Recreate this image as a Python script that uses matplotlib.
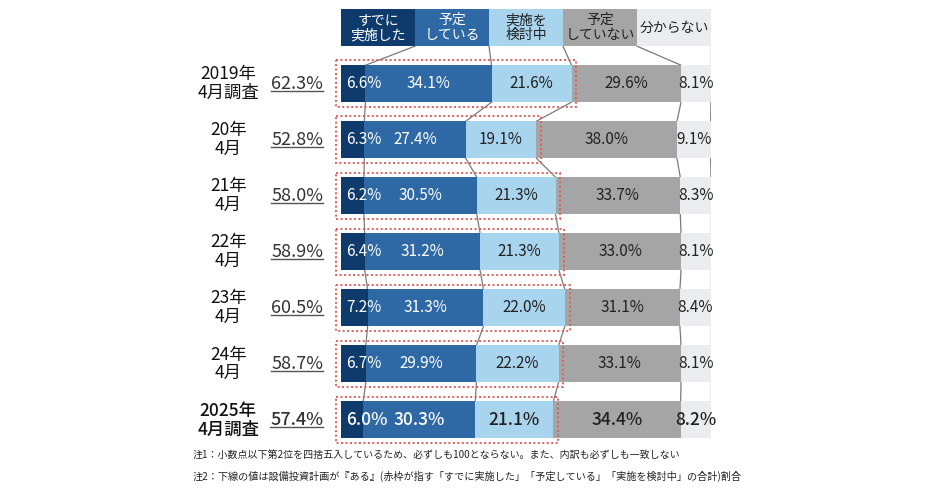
import matplotlib
matplotlib.use('Agg')
import matplotlib.pyplot as plt
from matplotlib.patches import Rectangle
from matplotlib.lines import Line2D
import numpy as np

plt.rcParams['font.family'] = ['Noto Sans CJK JP', 'DejaVu Sans']

# data
years = ['2019年\n4月調査', '20年\n4月', '21年\n4月', '22年\n4月', '23年\n4月', '24年\n4月', '2025年\n4月調査']
totals = ['62.3%', '52.8%', '58.0%', '58.9%', '60.5%', '58.7%', '57.4%']
categories = ['すでに\n実施した', '予定\nしている', '実施を\n検討中', '予定\nしていない', '分からない']
done = [6.6, 6.3, 6.2, 6.4, 7.2, 6.7, 6.0]
planned = [34.1, 27.4, 30.5, 31.2, 31.3, 29.9, 30.3]
considering = [21.6, 19.1, 21.3, 21.3, 22.0, 22.2, 21.1]
not_planned = [29.6, 38.0, 33.7, 33.0, 31.1, 33.1, 34.4]
unknown = [8.1, 9.1, 8.3, 8.1, 8.4, 8.1, 8.2]
notes = ['注1：小数点以下第2位を四捨五入しているため、必ずしも100とならない。また、内訳も必ずしも一致しない',
         '注2：下線の値は設備投資計画が『ある』(赤枠が指す「すでに実施した」「予定している」「実施を検討中」の合計)割合']

colors = ['#0e3a6c', '#2e69a5', '#a8d4ee', '#a5a5a5', '#eaecef']
text_colors = ['white', 'white', '#222222', '#222222', '#222222']
line_col = '#7a7a7a'

vals = np.array([done, planned, considering, not_planned, unknown]).T
cum = np.hstack([np.zeros((len(years), 1)), np.cumsum(vals, axis=1)])
n = len(years)
h = 0.66

fig = plt.figure(figsize=(9.4, 4.92), dpi=100)
ax = fig.add_axes([341 / 940, 1 - 452 / 492, 370 / 940, 452 / 492])
ax.set_xlim(0, 100)
ax.set_ylim(6 + 32 / 55.9, -83.5 / 55.9)
ax.axis('off')

# header boxes
hw = 100 / len(categories)
for k, c in enumerate(categories):
    ax.barh(-1, hw, left=k * hw, height=h, color=colors[k], zorder=2)
    ax.text(k * hw + hw / 2, -1, c, ha='center', va='center', fontsize=10,
            color=text_colors[k], linespacing=1.1, zorder=3)

# connector lines
for k in range(1, 6):
    ax.plot([k * hw, cum[0, k]], [-1 + h / 2, -h / 2], color=line_col, lw=0.9, zorder=1)
    for i in range(n - 1):
        ax.plot([cum[i, k], cum[i + 1, k]], [i + h / 2, i + 1 - h / 2],
                color=line_col, lw=0.9, zorder=1)

# bars
for k in range(5):
    ax.barh(range(n), vals[:, k], left=cum[:, k], height=h, color=colors[k], zorder=2)

total_texts = []
for i in range(n):
    last = i == n - 1
    fs = 12.5 if last else 11
    fw = 'medium' if last else 'normal'
    for k in range(5):
        lab = f'{vals[i, k]:.1f}%'
        if k == 0:
            ax.text(cum[i, 0] + 1.3, i, lab, ha='left', va='center', fontsize=fs,
                    fontweight=fw, color=text_colors[k], zorder=4)
        else:
            ax.text((cum[i, k] + cum[i, k + 1]) / 2, i, lab, ha='center', va='center',
                    fontsize=fs, fontweight=fw, color=text_colors[k], zorder=4)
    # red dotted frame around "ある"
    ax.add_patch(Rectangle((-1.3, i - h / 2 - 0.085), cum[i, 3] + 2.6, h + 0.17, fill=False,
                           edgecolor='#d9605a', linestyle=(0, (1, 1.3)), lw=1.4,
                           zorder=5, clip_on=False))
    ax.text(-30.5, i, years[i], ha='center', va='center', fontsize=12.5,
            fontweight=fw, color='#111111', linespacing=1.05, clip_on=False)
    t = ax.text(-4.8, i, totals[i], ha='right', va='center', fontsize=13,
                fontweight=fw, color='#333333', clip_on=False)
    total_texts.append(t)

# underline totals
fig.canvas.draw()
r = fig.canvas.get_renderer()
W, H = fig.bbox.width, fig.bbox.height
for t in total_texts:
    bb = t.get_window_extent(r)
    y0 = (bb.y0 + 2) / H
    fig.add_artist(Line2D([bb.x0 / W, bb.x1 / W], [y0, y0], transform=fig.transFigure,
                          color='#555555', lw=1.0))

fig.text(193 / 940, 1 - 455 / 492, notes[0], fontsize=7.2, va='center', color='#222222')
fig.text(193 / 940, 1 - 476 / 492, notes[1], fontsize=7.3, va='center', color='#222222')

fig.savefig('out.png', dpi=100)
